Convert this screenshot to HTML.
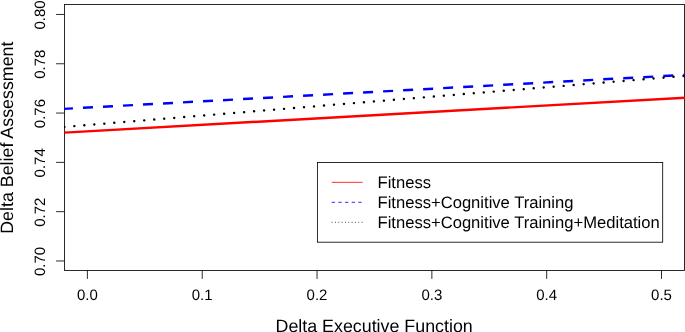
<!DOCTYPE html><html><head><meta charset="utf-8"><style>html,body{margin:0;padding:0;background:#fff;overflow:hidden}svg{display:block;will-change:transform}text{font-family:"Liberation Sans",sans-serif;fill:#000;text-rendering:geometricPrecision}</style></head><body>
<svg width="685" height="332" viewBox="0 0 685 332">
<rect width="685" height="332" fill="#fff"/>
<g stroke="#000" stroke-width="0.83" fill="none">
<rect x="64.5" y="4.5" width="620.0" height="266.0"/>
<line x1="56.1" y1="14.46" x2="64.5" y2="14.46"/>
<line x1="56.1" y1="63.76" x2="64.5" y2="63.76"/>
<line x1="56.1" y1="113.06" x2="64.5" y2="113.06"/>
<line x1="56.1" y1="162.36" x2="64.5" y2="162.36"/>
<line x1="56.1" y1="211.66" x2="64.5" y2="211.66"/>
<line x1="56.1" y1="260.96" x2="64.5" y2="260.96"/>
<line x1="87.40" y1="270.5" x2="87.40" y2="278.9"/>
<line x1="202.22" y1="270.5" x2="202.22" y2="278.9"/>
<line x1="317.04" y1="270.5" x2="317.04" y2="278.9"/>
<line x1="431.86" y1="270.5" x2="431.86" y2="278.9"/>
<line x1="546.68" y1="270.5" x2="546.68" y2="278.9"/>
<line x1="661.50" y1="270.5" x2="661.50" y2="278.9"/>
</g>
<clipPath id="pc"><rect x="64.05" y="4.5" width="620.9000000000001" height="266.0"/></clipPath>
<g stroke-width="2.45" fill="none" clip-path="url(#pc)">
<line x1="64.5" y1="132.6" x2="685.5" y2="97.64" stroke="#ff0000"/>
<line x1="62.95" y1="108.935" x2="685.5" y2="74.84" stroke="#0000ff" stroke-dasharray="10.02 10.02"/>
<line x1="64.35" y1="126.952" x2="685.5" y2="75.85" stroke="#000" stroke-linecap="round" stroke-dasharray="0.01 10.01"/>
</g>
<g font-size="15" text-anchor="middle">
<text x="87.40" y="299.75">0.0</text>
<text x="202.22" y="299.75">0.1</text>
<text x="317.04" y="299.75">0.2</text>
<text x="431.86" y="299.75">0.3</text>
<text x="546.68" y="299.75">0.4</text>
<text x="661.50" y="299.75">0.5</text>
<text transform="translate(45.4,14.96) rotate(-90)">0.80</text>
<text transform="translate(45.4,64.26) rotate(-90)">0.78</text>
<text transform="translate(45.4,113.56) rotate(-90)">0.76</text>
<text transform="translate(45.4,162.86) rotate(-90)">0.74</text>
<text transform="translate(45.4,212.16) rotate(-90)">0.72</text>
<text transform="translate(45.4,261.46) rotate(-90)">0.70</text>
</g>
<g font-size="17.83" text-anchor="middle">
<text x="374.15" y="331.9">Delta Executive Function</text>
<text transform="translate(12.6,137.65) rotate(-90)">Delta Belief Assessment</text>
</g>
<rect x="317.4" y="162.5" width="345.30000000000007" height="79.69999999999999" fill="#fff" stroke="#000" stroke-width="0.83"/>
<g stroke-width="0.83" fill="none">
<line x1="331.7" y1="182.3" x2="362.7" y2="182.3" stroke="#ff0000"/>
<line x1="331.7" y1="202.3" x2="362.7" y2="202.3" stroke="#0000ff" stroke-dasharray="3.33 3.33"/>
<line x1="331.7" y1="222.3" x2="362.7" y2="222.3" stroke="#000" stroke-dasharray="0.83 2.5"/>
</g>
<g font-size="16.6">
<text x="377.5" y="187.9">Fitness</text>
<text x="377.5" y="207.9">Fitness+Cognitive Training</text>
<text x="377.5" y="227.9">Fitness+Cognitive Training+Meditation</text>
</g>
</svg></body></html>
